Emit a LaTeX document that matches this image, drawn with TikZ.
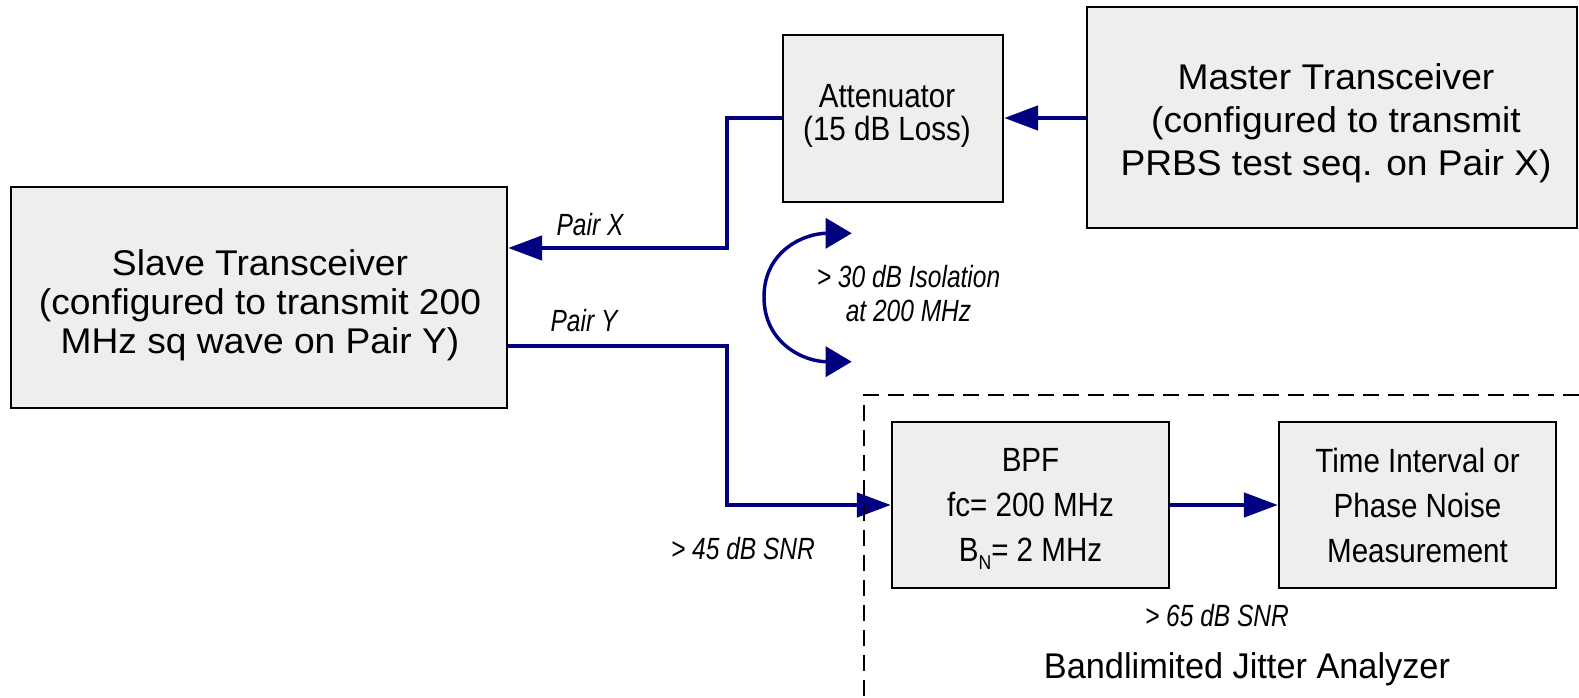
\documentclass[tikz,border=0pt]{standalone}
\usepackage{fontspec}
\setmainfont{Liberation Sans}
\newfontfamily\mainfnt[FakeStretch=1.04]{Liberation Sans}
\newfontfamily\narrowfnt[FakeStretch=0.88]{Liberation Sans}
\newfontfamily\labelfnt[FakeStretch=0.8]{Liberation Sans}
\newfontfamily\titlefnt[FakeStretch=0.96]{Liberation Sans}
\usetikzlibrary{arrows.meta}
\definecolor{navyline}{RGB}{0,0,128}
\definecolor{boxfill}{RGB}{238,238,238}
\begin{document}
\begin{tikzpicture}[x=0.75pt,y=-0.75pt,
  box/.style={draw=black, line width=1.7pt, fill=boxfill, inner sep=0pt},
  bigtext/.style={inner sep=0pt, align=center, font=\mainfnt\fontsize{26.8pt}{29.25pt}\selectfont},
  midtext/.style={inner sep=0pt, align=center, font=\narrowfnt\fontsize{25.2pt}{33.75pt}\selectfont},
  lbl/.style={inner sep=0pt, align=center, font=\labelfnt\itshape\fontsize{23pt}{25.8pt}\selectfont},
  wire/.style={draw=navyline, line width=3.4pt},
  conn/.style={wire, -{Triangle[length=25.5pt,width=18pt]}},
  dconn/.style={draw=navyline, line width=2.6pt,
     {Triangle[length=19.5pt,width=22.5pt]}-{Triangle[length=19.5pt,width=22.5pt]}},
  region/.style={draw=black, line width=1.3pt, dash pattern=on 12pt off 6.75pt}
]
\useasboundingbox (0,0) rectangle (1579,698);

% boxes (corners in pixels of the reference)
\node[box, minimum width=372pt, minimum height=165.75pt] (slave) at (259,297.5) {};
\node[box, minimum width=165pt, minimum height=125.25pt] (atten) at (893,118.5) {};
\node[box, minimum width=367.5pt, minimum height=165.75pt] (master) at (1332,117.5) {};
\node[box, minimum width=207.75pt, minimum height=124.5pt] (bpf) at (1030.5,505) {};
\node[box, minimum width=207.75pt, minimum height=124.5pt] (timebox) at (1417.5,505) {};

% box texts
\node[bigtext] (slavetext) at (260,305)
  {Slave Transceiver\\(configured to transmit 200\\MHz sq wave on Pair Y)};
\node[bigtext, font=\mainfnt\fontsize{26.8pt}{32.25pt}\selectfont] (mastertext) at (1336,123)
  {Master Transceiver\\(configured to transmit\\PRBS test seq. on Pair X)};
\node[midtext, font=\narrowfnt\fontsize{25.2pt}{25pt}\selectfont] (attentext) at (887,116)
  {Attenuator\\(15 dB Loss)};
\node[midtext] (bpftext) at (1030.5,505)
  {BPF\\fc= 200 MHz\\B\raisebox{-6.2pt}[0pt][0pt]{\fontsize{15pt}{15pt}\selectfont N}= 2 MHz};
\node[midtext] (timetext) at (1417.5,505)
  {Time Interval or\\Phase Noise\\Measurement};

% labels
\node[lbl] (pairx) at (590,225) {Pair X};
\node[lbl] (pairy) at (584,321) {Pair Y};
\node[lbl] (iso) at (908.5,293.5) {> 30 dB Isolation\\at 200 MHz};
\node[lbl] (snr45) at (743,549) {> 45 dB SNR};
\node[lbl] (snr65) at (1217,616) {> 65 dB SNR};
\node[inner sep=0pt, font=\titlefnt\fontsize{26.8pt}{30pt}\selectfont] (bja) at (1247,669)
  {Bandlimited Jitter Analyzer};

% bend points
\coordinate (xbend) at (727,248);
\coordinate (ybend) at (727,346);
\coordinate (isotop) at (851.7,233.3);
\coordinate (isomid) at (764,297);
\coordinate (isobot) at (851.7,361.7);
\coordinate (dcorner) at (864,395);
\coordinate (dright) at (1579,395);
\coordinate (dbottom) at (864,698);

% connectors
\draw[conn] (master.west |- 0,118) -- (atten.east |- 0,118);
\draw[conn] (atten.west |- 0,118) -| (xbend) -- (slave.east |- xbend);
\draw[conn] (slave.east |- ybend) -- (ybend) |- (bpf.west);
\draw[conn] (bpf.east) -- (timebox.west);
\draw[dconn] (isotop) to[out=180,in=90,looseness=1.1] (isomid)
                      to[out=-90,in=180,looseness=1.1] (isobot);

% analyzer region
\draw[region] (dright) -- (dcorner) -- (dbottom);
\end{tikzpicture}
\end{document}
